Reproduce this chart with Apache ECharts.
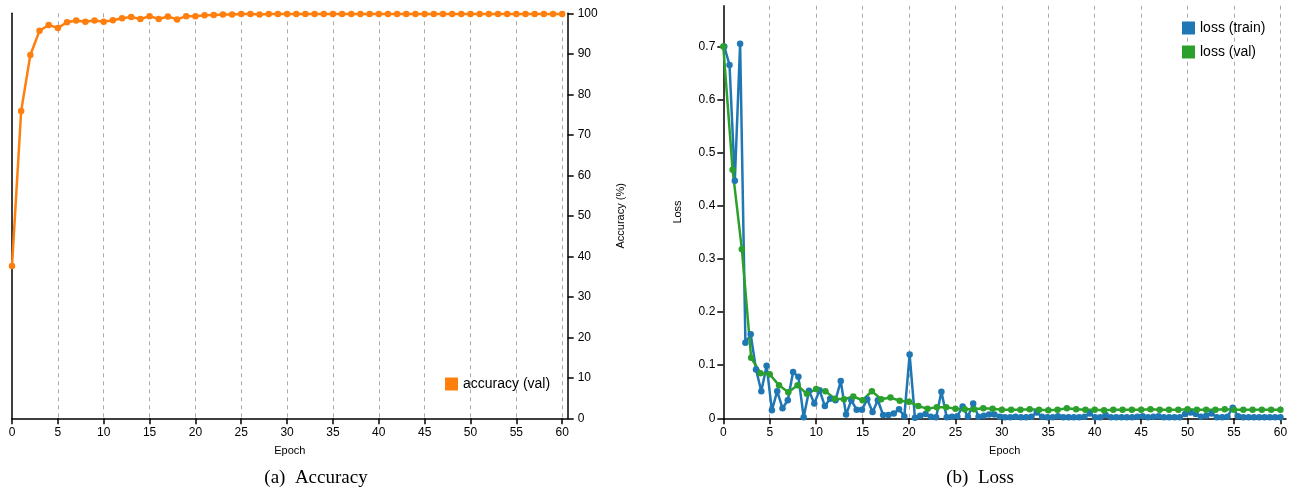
<!DOCTYPE html>
<html>
<head>
<meta charset="utf-8">
<script src="https://cdn.jsdelivr.net/npm/echarts@6/dist/echarts.min.js"></script>
<style>html,body{margin:0;padding:0;background:#fff;}#c{width:1294px;height:491px;}</style>
</head>
<body>
<div id="c"></div>
<script>
// ---- data ----
const accuracyVal = [37.6, 75.9, 89.7, 95.7, 97.1, 96.4, 97.8, 98.2, 97.9, 98.2, 97.9, 98.3, 98.8, 99.1, 98.6, 99.3, 98.6, 99.2, 98.5, 99.3,
  99.3, 99.5, 99.6, 99.7, 99.7, 99.8, 99.8, 99.7, 99.8, 99.8, 99.8, 99.8, 99.8, 99.8, 99.8, 99.8, 99.8, 99.8, 99.8, 99.8,
  99.8, 99.8, 99.8, 99.8, 99.8, 99.8, 99.8, 99.8, 99.8, 99.8, 99.8, 99.8, 99.8, 99.8, 99.8, 99.8, 99.8, 99.8, 99.8, 99.8, 99.8];
const lossVal = [0.700, 0.468, 0.318, 0.114, 0.085, 0.083, 0.062, 0.049, 0.062, 0.046, 0.055, 0.051, 0.037, 0.036, 0.041, 0.034, 0.051, 0.036, 0.039, 0.033,
  0.031, 0.023, 0.018, 0.021, 0.021, 0.018, 0.017, 0.017, 0.019, 0.018, 0.016, 0.016, 0.016, 0.017, 0.016, 0.015, 0.016, 0.019, 0.017, 0.016,
  0.016, 0.015, 0.016, 0.016, 0.016, 0.016, 0.017, 0.016, 0.016, 0.016, 0.017, 0.016, 0.016, 0.016, 0.017, 0.016, 0.016, 0.016, 0.016, 0.016, 0.016];
const lossTrain = [0.700, 0.665, 0.447, 0.705, 0.142, 0.158, 0.092, 0.051, 0.099, 0.015, 0.051, 0.019, 0.034, 0.087, 0.078, 0.002, 0.052, 0.028, 0.053, 0.023,
  0.037, 0.034, 0.070, 0.007, 0.034, 0.016, 0.016, 0.036, 0.012, 0.034, 0.006, 0.006, 0.009, 0.017, 0.004, 0.120, 0.001, 0.005, 0.008, 0.003,
  0.002, 0.050, 0.002, 0.003, 0.004, 0.022, 0.003, 0.028, 0.003, 0.005, 0.007, 0.007, 0.003, 0.002, 0.002, 0.003, 0.002, 0.002, 0.003, 0.011,
  0.003, 0.002, 0.002, 0.004, 0.002, 0.002, 0.002, 0.002, 0.003, 0.009, 0.002, 0.002, 0.006, 0.002, 0.002, 0.002, 0.002, 0.002, 0.003, 0.004,
  0.002, 0.003, 0.004, 0.002, 0.002, 0.002, 0.002, 0.008, 0.011, 0.008, 0.003, 0.005, 0.009, 0.002, 0.002, 0.003, 0.020, 0.004, 0.002, 0.002,
  0.002, 0.002, 0.002, 0.002, 0.002, 0.002];
const TRAIN_START = 0.1;    // epoch of first logged training loss
const TRAIN_STEP = 0.5705;  // epochs between logged training losses
const xTicks = [0, 5, 10, 15, 20, 25, 30, 35, 40, 45, 50, 55, 60];
const accTicks = [0, 10, 20, 30, 40, 50, 60, 70, 80, 90, 100];
const lossTicks = [0, 0.1, 0.2, 0.3, 0.4, 0.5, 0.6, 0.7];

// ---- chart ----
const FONT = 'Liberation Sans, Arial, sans-serif';
const ORANGE = '#ff7f0e', BLUE = '#1f77b4', GREEN = '#2ca02c';
const X_MAX = 60.6;
const LOSS_MAX = 0.7766;

function xAxisCfg(grid) {
  return {
    type: 'value', gridIndex: grid, min: 0, max: X_MAX, interval: 5,
    name: 'Epoch', nameLocation: 'middle', nameGap: 27,
    nameTextStyle: { fontFamily: FONT, fontSize: 11, color: '#000' },
    axisLine: { show: true, onZero: false, lineStyle: { color: '#000', width: 1.5 } },
    axisTick: { show: true, length: 6, lineStyle: { color: '#000', width: 1.5 } },
    axisLabel: { fontFamily: FONT, fontSize: 12, color: '#000', margin: 8, showMaxLabel: false,
      formatter: v => xTicks.includes(v) ? String(v) : '' },
    splitLine: { show: true, showMinLine: false, showMaxLine: false, lineStyle: { color: '#aaa', type: [4, 4], width: 1 } }
  };
}

const chart = echarts.init(document.getElementById('c'), null, { renderer: 'canvas' });
chart.setOption({
  animation: false,
  backgroundColor: '#fff',
  grid: [
    { left: 12, right: 726.3, top: 13.3, bottom: 72.7 },
    { left: 723.3, right: 8, top: 5.7, bottom: 72.7 }
  ],
  xAxis: [xAxisCfg(0), xAxisCfg(1)],
  yAxis: [
    { type: 'value', gridIndex: 0, position: 'left', min: 0, max: 100, interval: 10,
      axisLine: { show: true, lineStyle: { color: '#000', width: 1.5 } },
      axisTick: { show: false }, axisLabel: { show: false }, splitLine: { show: false } },
    { type: 'value', gridIndex: 0, position: 'right', min: 0, max: 100, interval: 10,
      name: 'Accuracy (%)', nameLocation: 'middle', nameGap: 48, nameRotate: 90,
      nameTextStyle: { fontFamily: FONT, fontSize: 11, color: '#000' },
      axisLine: { show: true, lineStyle: { color: '#000', width: 1.5 } },
      axisTick: { show: true, length: 6, lineStyle: { color: '#000', width: 1.5 } },
      axisLabel: { fontFamily: FONT, fontSize: 12, color: '#000', margin: 10,
        formatter: v => accTicks.includes(v) ? String(v) : '' },
      splitLine: { show: false } },
    { type: 'value', gridIndex: 1, position: 'left', min: 0, max: LOSS_MAX, interval: 0.1,
      name: 'Loss', nameLocation: 'middle', nameGap: 40, nameRotate: 90,
      nameTextStyle: { fontFamily: FONT, fontSize: 11, color: '#000' },
      axisLine: { show: true, lineStyle: { color: '#000', width: 1.5 } },
      axisTick: { show: true, length: 6, lineStyle: { color: '#000', width: 1.5 } },
      axisLabel: { fontFamily: FONT, fontSize: 12, color: '#000', margin: 8, showMaxLabel: false,
        formatter: v => { const t = lossTicks.find(k => Math.abs(k - v) < 1e-6); return t === undefined ? '' : String(t); } },
      splitLine: { show: false } }
  ],
  legend: [
    { data: [{ name: 'accuracy (val)', icon: 'rect', itemStyle: { color: ORANGE } }],
      left: 440, top: 372, itemWidth: 13, itemHeight: 13, itemGap: 10,
      textStyle: { fontFamily: FONT, fontSize: 14, color: '#000' } },
    { data: [{ name: 'loss (train)', icon: 'rect', itemStyle: { color: BLUE } },
             { name: 'loss (val)', icon: 'rect', itemStyle: { color: GREEN } }],
      orient: 'vertical', left: 1177, top: 16, itemWidth: 13, itemHeight: 13, itemGap: 10,
      textStyle: { fontFamily: FONT, fontSize: 14, color: '#000' } }
  ],
  series: [
    { name: 'accuracy (val)', type: 'line', xAxisIndex: 0, yAxisIndex: 1,
      data: accuracyVal.map((v, i) => [i, v]),
      symbol: 'circle', symbolSize: 6.5, showSymbol: true,
      lineStyle: { color: ORANGE, width: 2.5 }, itemStyle: { color: ORANGE } },
    { name: 'loss (train)', type: 'line', xAxisIndex: 1, yAxisIndex: 2,
      data: lossTrain.map((v, i) => [TRAIN_START + i * TRAIN_STEP, v]),
      symbol: 'circle', symbolSize: 6.5, showSymbol: true,
      lineStyle: { color: BLUE, width: 2.5 }, itemStyle: { color: BLUE } },
    { name: 'loss (val)', type: 'line', xAxisIndex: 1, yAxisIndex: 2,
      data: lossVal.map((v, i) => [i, v]),
      symbol: 'circle', symbolSize: 6.5, showSymbol: true,
      lineStyle: { color: GREEN, width: 2.5 }, itemStyle: { color: GREEN } }
  ],
  graphic: [
    { type: 'text', x: 316, y: 478, style: { text: '(a)  Accuracy', font: '19px "Liberation Serif", "Times New Roman", serif', fill: '#000', textAlign: 'center', textVerticalAlign: 'middle' } },
    { type: 'text', x: 980, y: 478, style: { text: '(b)  Loss', font: '19px "Liberation Serif", "Times New Roman", serif', fill: '#000', textAlign: 'center', textVerticalAlign: 'middle' } }
  ]
});
</script>
</body>
</html>
